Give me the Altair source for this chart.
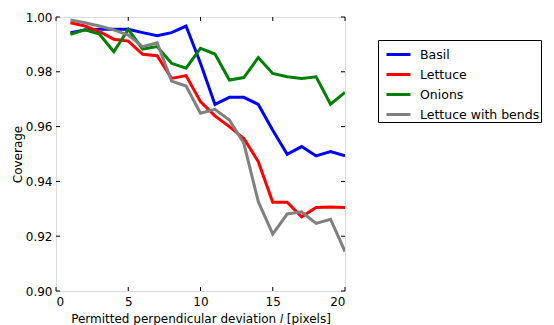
import altair as alt
import pandas as pd

x_vals = list(range(1, 21))
basil = [0.9943, 0.9953, 0.9955, 0.9955, 0.9955, 0.9943, 0.9932, 0.9943, 0.9967, 0.9831,
         0.9681, 0.9707, 0.9707, 0.9681, 0.9587, 0.9499, 0.9527, 0.9493, 0.9509, 0.9493]
lettuce = [0.9979, 0.9967, 0.9947, 0.9919, 0.9912, 0.9864, 0.9859, 0.9776, 0.9786, 0.9691,
           0.9639, 0.9600, 0.9557, 0.9472, 0.9324, 0.9324, 0.9271, 0.9305, 0.9307, 0.9305]
onions = [0.9937, 0.9953, 0.9938, 0.9873, 0.9955, 0.9883, 0.9892, 0.9831, 0.9813, 0.9886,
          0.9865, 0.9770, 0.9779, 0.9852, 0.9794, 0.9782, 0.9776, 0.9782, 0.9682, 0.9725]
bends = [0.9989, 0.9979, 0.9967, 0.9953, 0.9934, 0.9892, 0.9906, 0.9766, 0.9748, 0.9649,
         0.9663, 0.9624, 0.9539, 0.9326, 0.9208, 0.9281, 0.9289, 0.9247, 0.9262, 0.9144]
series_names = ["Basil", "Lettuce", "Onions", "Lettuce with bends"]
series_colors = ["#0000ff", "#ff0000", "#008000", "#808080"]
x_ticks = [0, 5, 10, 15, 20]
y_ticks = [0.90, 0.92, 0.94, 0.96, 0.98, 1.00]

rows = []
for name, vals in zip(series_names, [basil, lettuce, onions, bends]):
    for i, (xv, yv) in enumerate(zip(x_vals, vals)):
        rows.append({"series": name, "x": xv, "y": yv, "order": i})
df = pd.DataFrame(rows)

W, H = 289, 274
xs = alt.Scale(domain=[0, 20], nice=False, zero=False)
ys = alt.Scale(domain=[0.90, 1.00], nice=False, zero=False)

lines = alt.Chart(df).mark_line(strokeWidth=3, clip=True).encode(
    x=alt.X("x:Q", scale=xs, axis=alt.Axis(
        values=x_ticks, title="Permitted perpendicular deviation 𝑙 [pixels]",
        grid=False, ticks=False, domain=False, labelPadding=5,
        labelFontSize=12, titleFontSize=12, titleFontWeight="normal",
        titlePadding=6, labelColor="#000", titleColor="#000",
        labelFont="DejaVu Sans", titleFont="DejaVu Sans")),
    y=alt.Y("y:Q", scale=ys, axis=alt.Axis(
        values=y_ticks, format=".2f", title="Coverage",
        grid=False, ticks=False, domain=False, labelPadding=4,
        labelFontSize=12, titleFontSize=12, titleFontWeight="normal",
        titlePadding=1, labelColor="#000", titleColor="#000",
        labelFont="DejaVu Sans", titleFont="DejaVu Sans")),
    color=alt.Color("series:N", scale=alt.Scale(domain=series_names, range=series_colors),
                    legend=alt.Legend(
                        title=None, orient="none", legendX=322, legendY=23,
                        symbolType="stroke", symbolStrokeWidth=3, symbolSize=576,
                        symbolOffset=6,
                        labelFontSize=12.5, labelFont="DejaVu Sans", labelColor="#000",
                        strokeColor="#000", fillColor="#fff", padding=1,
                        rowPadding=-1, labelOffset=8, cornerRadius=0)),
    order="order:Q",
    detail="series:N",
)

xt = pd.DataFrame({"v": x_ticks})
yt = pd.DataFrame({"v": y_ticks})
tick_style = dict(color="#000", strokeWidth=1)
xb = alt.Chart(xt).mark_rule(**tick_style).encode(
    x=alt.X("v:Q", scale=xs), y=alt.value(H), y2=alt.value(H - 4))
xtop = alt.Chart(xt).mark_rule(**tick_style).encode(
    x=alt.X("v:Q", scale=xs), y=alt.value(0), y2=alt.value(4))
yl = alt.Chart(yt).mark_rule(**tick_style).encode(
    y=alt.Y("v:Q", scale=ys), x=alt.value(0), x2=alt.value(4))
yr = alt.Chart(yt).mark_rule(**tick_style).encode(
    y=alt.Y("v:Q", scale=ys), x=alt.value(W), x2=alt.value(W - 4))

chart = alt.layer(lines, xb, xtop, yl, yr).properties(
    width=W, height=H,
    autosize=alt.AutoSizeParams(type="none"),
    padding={"left": 48, "top": 9, "right": 200, "bottom": 45},
).configure_view(stroke="#000", strokeWidth=1).configure(background="#fff")

chart.save("out.html", embed_options={"renderer": "svg", "actions": False})
